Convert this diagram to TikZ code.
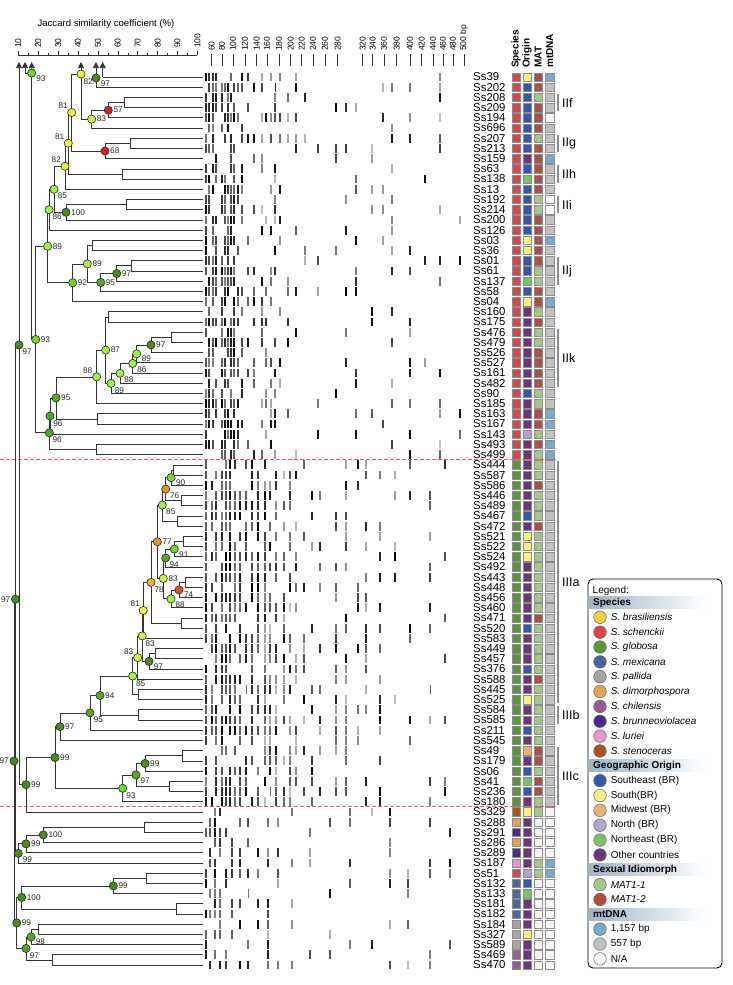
\documentclass[tikz,border=0pt]{standalone}
\usepackage{fontspec}
\setmainfont{Liberation Sans}
\usetikzlibrary{arrows.meta,positioning}
% species
\definecolor{sY}{HTML}{F0D23A}
\definecolor{sR}{HTML}{D9464C}
\definecolor{sG}{HTML}{5A963A}
\definecolor{sB}{HTML}{4A64A4}
\definecolor{sP}{HTML}{A8A39C}
\definecolor{sO}{HTML}{E2A454}
\definecolor{sC}{HTML}{9A5A96}
\definecolor{sV}{HTML}{4A2A8C}
\definecolor{sL}{HTML}{E898CC}
\definecolor{sS}{HTML}{A8541A}
% origin
\definecolor{oSE}{HTML}{3A56A6}
\definecolor{oS}{HTML}{F5EF88}
\definecolor{oMW}{HTML}{E8B272}
\definecolor{oN}{HTML}{B4A4D4}
\definecolor{oNE}{HTML}{7CC06C}
\definecolor{oOC}{HTML}{6A3878}
% mating type and mtDNA
\definecolor{m1}{HTML}{A6C688}
\definecolor{m2}{HTML}{B04E46}
\definecolor{mW}{HTML}{F4F4F4}
\definecolor{tB}{HTML}{78AACC}
\definecolor{tG}{HTML}{C2C2C2}
\definecolor{tW}{HTML}{F6F6F6}
% bootstrap scale
\definecolor{cDk}{HTML}{4A8A1E}
\definecolor{cMd}{HTML}{5AA526}
\definecolor{cBr}{HTML}{6ED82C}
\definecolor{cLt}{HTML}{9FF04C}
\definecolor{cYg}{HTML}{CDF24A}
\definecolor{cYe}{HTML}{E8F040}
\definecolor{cGo}{HTML}{E6B82E}
\definecolor{cOr}{HTML}{E3952A}
\definecolor{cRo}{HTML}{E0561A}
\definecolor{cRd}{HTML}{D42222}
\definecolor{hdbar}{HTML}{9FB4C6}
\definecolor{sepred}{HTML}{E06464}
\tikzset{
  tree/.style={draw=black!80, line width=0.7pt},
  cutln/.style={tree, -{Triangle[length=6pt,width=6pt]}},
  bs/.style={circle, draw=black!85, line width=0.6pt, fill=#1, minimum size=8.2pt, inner sep=0pt},
  blab/.style={font=\fontsize{8.2}{8.2}\selectfont, inner sep=0.6pt, text=black!85},
  strain/.style={anchor=west, inner sep=0pt, font=\fontsize{11.4}{11.4}\selectfont},
  cbox/.style={rectangle, draw=black!45, line width=0.5pt, fill=#1, minimum width=8.2pt, minimum height=8.4pt, inner sep=0pt},
  colhd/.style={rotate=90, anchor=west, inner sep=0pt, font=\bfseries\fontsize{10}{10}\selectfont},
  axlab/.style={rotate=90, anchor=west, inner sep=0pt, font=\fontsize{8.5}{8.5}\selectfont},
  axln/.style={draw=black!80, line width=0.5pt},
  clade/.style={draw=black!45, line width=1.2pt},
  cladelab/.style={anchor=west, inner sep=0pt, font=\fontsize{12.5}{12.5}\selectfont},
  sepln/.style={draw=sepred, dash pattern=on 4pt off 2pt, line width=0.9pt},
  lgdot/.style={circle, draw=black!60, line width=0.5pt, fill=#1, minimum size=12.6pt, inner sep=0pt},
  lgtxt/.style={anchor=west, inner sep=0pt, font=\fontsize{10}{10}\selectfont},
  lghd/.style={anchor=west, inner sep=0pt, font=\bfseries\fontsize{10}{10}\selectfont},
}
% gel lanes: rows #1..#2, band positions/probabilities #3
\newcommand{\gelrows}[3]{%
  \foreach \i in {#1,...,#2}{%
    \pgfmathsetmacro{\yy}{77+(\i-1)*10.207}%
    \foreach \bx/\pb in {#3}{%
      \pgfmathtruncatemacro{\hit}{rnd<\pb}%
      \ifnum\hit=1
        \pgfmathtruncatemacro{\gv}{\bx<262 ? 50+50*rnd : 25+75*rnd}%
        \pgfmathsetmacro{\bw}{0.5+0.7*rnd}%
        \fill[black!\gv] (\bx-\bw,\yy-4.4) rectangle (\bx+\bw,\yy+4.4);
      \fi
    }%
  }%
}

\begin{document}
\begin{tikzpicture}[x=1pt, y=-1pt]
  \useasboundingbox (0,0) rectangle (732,985);
  \fill[white] (0,0) rectangle (732,985);

  % axes
  \node[font=\fontsize{9.6}{9.6}\selectfont] (ttl) at (106,24) {Jaccard similarity coefficient (\%)};
  \draw[axln] (18.3,55) -- (197.4,55);
  \foreach \v in {10,20,...,100}{
    \pgfmathsetmacro{\ax}{18.3+(\v-10)*1.99}
    \draw[axln] (\ax,50.5) -- (\ax,55);
    \node[axlab] at (\ax,48) {\v};
  }
  \foreach \v in {15,25,...,95}{
    \pgfmathsetmacro{\ax}{18.3+(\v-10)*1.99}
    \draw[axln] (\ax,52.5) -- (\ax,55);
  }
  \foreach \bp/\bx in {60/211.7,80/222,100/233,120/245,140/256.7,160/267,180/279,200/290.7,220/301.7,240/313,260/325,280/337.7,320/362.7,340/372.7,360/384,380/396.7,400/410,420/421.7,440/433,460/443,480/453}{
    \draw[axln] (\bx,54) -- (\bx,66);
    \node[axlab] at (\bx,51) {\bp};
  }
  \draw[axln] (464,54) -- (464,66);
  \node[axlab] at (464,51) {500 bp};

  % column heads
  \node[colhd] at (516,68) {Species};
  \node[colhd] at (527,68) {Origin};
  \node[colhd] at (538.3,68) {MAT};
  \node[colhd] at (549.8,68) {mtDNA};

  % gel bands
  \pgfmathsetseed{11}
  \gelrows{1}{38}{206/0.75,209/0.65,213/0.55,216/0.5,222/0.65,225/0.55,228/0.65,231/0.55,234/0.5,238/0.45,242/0.35,248/0.25,254/0.3,262/0.45,266/0.3,271/0.4,275/0.45,280/0.3,288/0.3,296/0.2,305/0.12,318/0.12,336/0.3,346/0.2,356/0.3,372/0.3,383/0.15,392/0.3,410/0.2,425/0.12,440/0.3,460/0.08}
  \gelrows{39}{72}{206/0.9,212/0.5,216/0.7,222/0.8,226/0.6,230/0.8,235/0.7,240/0.6,246/0.5,252/0.6,258/0.7,265/0.8,270/0.6,276/0.7,284/0.6,290/0.5,296/0.6,304/0.3,312/0.4,320/0.3,336/0.5,346/0.6,358/0.3,366/0.4,380/0.4,395/0.3,410/0.2,430/0.2,445/0.15}
  \gelrows{73}{88}{206/0.6,210/0.5,215/0.5,220/0.5,226/0.4,232/0.4,240/0.3,248/0.4,258/0.3,268/0.4,278/0.3,292/0.3,310/0.3,330/0.2,350/0.3,372/0.3,390/0.4,408/0.2,430/0.2,450/0.2}

  % strains, leaf ends and trait boxes
  \foreach \i/\nm/\spc/\ogn/\mt/\md in {
    1/Ss39/sR/oS/m2/tB, 2/Ss202/sR/oSE/m2/tG, 3/Ss208/sR/oSE/m1/tG, 4/Ss209/sR/oSE/m2/tG,
    5/Ss194/sR/oSE/m2/tW, 6/Ss696/sR/oSE/m2/tG, 7/Ss207/sR/oSE/m1/tG, 8/Ss213/sR/oSE/m2/tG,
    9/Ss159/sR/oOC/m2/tB, 10/Ss63/sR/oSE/m2/tG, 11/Ss138/sR/oNE/m2/tG, 12/Ss13/sR/oSE/m2/tG,
    13/Ss192/sR/oSE/m1/tW, 14/Ss214/sR/oSE/m1/tW, 15/Ss200/sR/oSE/m2/tG, 16/Ss126/sR/oSE/m2/tG,
    17/Ss03/sR/oS/m2/tB, 18/Ss36/sR/oS/m2/tG, 19/Ss01/sR/oSE/m2/tG, 20/Ss61/sR/oSE/m1/tG,
    21/Ss137/sR/oNE/m1/tG, 22/Ss58/sR/oSE/m2/tG, 23/Ss04/sR/oS/m2/tB, 24/Ss160/sR/oOC/m1/tG,
    25/Ss175/sR/oOC/m2/tG, 26/Ss476/sR/oOC/m1/tG, 27/Ss479/sR/oOC/m1/tG, 28/Ss526/sR/oOC/m2/tG,
    29/Ss527/sR/oOC/m2/tG, 30/Ss161/sR/oOC/m2/tG, 31/Ss482/sR/oOC/m2/tG, 32/Ss90/sR/oSE/m1/tG,
    33/Ss185/sR/oOC/m1/tG, 34/Ss163/sR/oOC/m2/tB, 35/Ss167/sR/oOC/m2/tB, 36/Ss143/sR/oN/m1/tG,
    37/Ss493/sR/oOC/m2/tB, 38/Ss499/sR/oOC/m1/tB, 39/Ss444/sG/oOC/m1/tG, 40/Ss587/sG/oOC/m1/tG,
    41/Ss586/sG/oOC/m2/tG, 42/Ss446/sG/oOC/m1/tG, 43/Ss489/sG/oOC/m1/tG, 44/Ss467/sG/oSE/m1/tG,
    45/Ss472/sG/oOC/m2/tG, 46/Ss521/sG/oS/m1/tG, 47/Ss522/sG/oS/m1/tG, 48/Ss524/sG/oS/m1/tG,
    49/Ss492/sG/oOC/m1/tG, 50/Ss443/sG/oOC/m1/tG, 51/Ss448/sG/oOC/m1/tG, 52/Ss456/sG/oOC/m1/tG,
    53/Ss460/sG/oOC/m1/tG, 54/Ss471/sG/oOC/m2/tG, 55/Ss520/sG/oSE/m1/tG, 56/Ss583/sG/oOC/m1/tG,
    57/Ss449/sG/oOC/m1/tG, 58/Ss457/sG/oOC/m1/tG, 59/Ss376/sG/oSE/m1/tG, 60/Ss588/sG/oOC/m2/tG,
    61/Ss445/sG/oOC/m1/tG, 62/Ss525/sG/oS/m1/tG, 63/Ss584/sG/oOC/m1/tG, 64/Ss585/sG/oOC/m1/tG,
    65/Ss211/sG/oSE/m1/tG, 66/Ss545/sG/oOC/m1/tG, 67/Ss49/sG/oMW/m2/tG, 68/Ss179/sG/oOC/m2/tG,
    69/Ss06/sG/oSE/m1/tG, 70/Ss41/sG/oNE/m2/tG, 71/Ss236/sG/oSE/m2/tG, 72/Ss180/sG/oOC/m1/tG,
    73/Ss329/sS/oS/m1/tW, 74/Ss288/sO/oOC/mW/tW, 75/Ss291/sV/oOC/mW/tW, 76/Ss286/sO/oOC/mW/tW,
    77/Ss289/sV/oOC/mW/tW, 78/Ss187/sL/oOC/m1/tB, 79/Ss51/sR/oN/m1/tB, 80/Ss132/sB/oSE/mW/tW,
    81/Ss133/sB/oNE/mW/tW, 82/Ss181/sB/oOC/mW/tW, 83/Ss182/sB/oOC/mW/tW, 84/Ss184/sP/oOC/mW/tW,
    85/Ss327/sP/oS/mW/tW, 86/Ss589/sP/oOC/mW/tW, 87/Ss469/sC/oOC/mW/tW, 88/Ss470/sC/oOC/mW/tW}{
    \pgfmathsetmacro{\yy}{77+(\i-1)*10.207}
    \coordinate (L\i) at (203,\yy);
    \node[strain] (s\i) at (473,\yy) {\nm};
    \node[cbox=\spc] (sp\i) at (516,\yy) {};
    \node[cbox=\ogn] (or\i) at (527,\yy) {};
    \node[cbox=\mt] (ma\i) at (538.3,\yy) {};
    \node[cbox=\md] (mt\i) at (549.8,\yy) {};
  }

  % group separators
  \draw[sepln] (0,459.8) -- (556,459.8);
  \draw[sepln] (0,806.8) -- (556,806.8);

  % clades
  \foreach \ca/\cb/\cl in {3/4/IIf, 7/8/IIg, 10/11/IIh, 13/14/IIi, 19/21/IIj, 26/31/IIk, 39/62/IIIa, 63/64/IIIb, 67/72/IIIc}{
    \pgfmathsetmacro{\ya}{77+(\ca-1)*10.207-3.5}
    \pgfmathsetmacro{\yb}{77+(\cb-1)*10.207+3.5}
    \draw[clade] (558,\ya) -- (558,\yb);
    \node[cladelab] at (562,{(\ya+\yb)/2}) {\cl};
  }

  % dendrogram: branch points
  \coordinate (tp1) at (19,62);   \coordinate (tp2) at (25,62);
  \coordinate (tp3) at (31.7,62); \coordinate (tp4) at (81,62);
  \coordinate (tp5) at (96,62);   \coordinate (tp6) at (102.7,62);
  \coordinate (c25) at (25,73);
  \coordinate (u0) at (102.7,77);    \coordinate (u4b) at (96,78);
  \coordinate (u1) at (124,102.52);  \coordinate (u2) at (108.3,110.17);
  \coordinate (u3) at (91.7,119.10); \coordinate (u4) at (81,74);
  \coordinate (u5) at (130,143.35);  \coordinate (u6) at (105,151.00);
  \coordinate (u7) at (71.7,112.50); \coordinate (u8) at (122.7,173.97);
  \coordinate (u9) at (68.3,143.23); \coordinate (u10) at (65,166.26);
  \coordinate (u11) at (126.7,204.59); \coordinate (u12) at (66,212.24);
  \coordinate (u13) at (54,189.25);  \coordinate (u14) at (49,209.68);
  \coordinate (u15) at (92.7,245.42); \coordinate (u16) at (131.7,265.83);
  \coordinate (u17) at (116.7,273.49); \coordinate (u18) at (100.7,282.42);
  \coordinate (u19) at (87.3,263.92); \coordinate (u20) at (72.7,282.74);
  \coordinate (u21) at (47.7,246.21); \coordinate (u22) at (108.3,316.86);
  \coordinate (u23) at (171.7,337.28); \coordinate (u24) at (151,344.93);
  \coordinate (u25) at (136.7,353.87); \coordinate (u26) at (132.7,363.44);
  \coordinate (u27) at (120,373.32); \coordinate (u28) at (111,383.37);
  \coordinate (u29) at (105.7,350.11); \coordinate (u30) at (96.7,376.87);
  \coordinate (u31) at (97.7,418.93); \coordinate (u32) at (56,397.90);
  \coordinate (u33) at (50,416.07);  \coordinate (u34) at (96.7,449.56);
  \coordinate (u35) at (49.3,432.81); \coordinate (u36) at (35.7,339.51);
  \coordinate (u37) at (31.7,73);
  \coordinate (w1) at (173.3,469.97); \coordinate (w2) at (171,477.62);
  \coordinate (w3) at (181.7,500.59); \coordinate (w4) at (165.7,489.11);
  \coordinate (w5) at (177.3,521.00); \coordinate (w6) at (162.3,505.06);
  \coordinate (w7) at (183.3,541.42); \coordinate (w8) at (174.3,549.07);
  \coordinate (w9) at (165.7,558.01); \coordinate (w10) at (185,582.25);
  \coordinate (w11) at (179,589.90); \coordinate (w12) at (171,598.83);
  \coordinate (w13) at (163.3,578.42); \coordinate (w14) at (157.3,541.74);
  \coordinate (w15) at (181.7,623.07); \coordinate (w16) at (151,582.41);
  \coordinate (w17) at (143.3,610.40); \coordinate (w18) at (155,653.70);
  \coordinate (w19) at (149,661.35); \coordinate (w20) at (142.3,635.88);
  \coordinate (w21) at (137.7,657.55); \coordinate (w22) at (138.3,694.52);
  \coordinate (w23) at (132.7,676.04); \coordinate (w24) at (138.3,714.94);
  \coordinate (w25) at (100,695.49); \coordinate (w26) at (90,712.87);
  \coordinate (w27) at (60,726.66); \coordinate (w28) at (182.7,755.77);
  \coordinate (w29) at (145,763.42); \coordinate (w30) at (169.3,786.39);
  \coordinate (w31) at (136,774.91); \coordinate (w32) at (122.7,788.30);
  \coordinate (w33) at (55,757.48); \coordinate (w34) at (26,784.69);
  \coordinate (b1) at (144,827.21); \coordinate (b2) at (43.3,834.87);
  \coordinate (b3) at (26,843.80); \coordinate (b4) at (18.3,853.37);
  \coordinate (b5) at (146.7,878.25); \coordinate (b6) at (113.3,885.91);
  \coordinate (b7) at (176,908.87); \coordinate (b8) at (21.7,897.39);
  \coordinate (b9) at (38.3,929.28); \coordinate (b10) at (31,936.94);
  \coordinate (b11) at (52.7,959.91); \coordinate (b12) at (26,948.43);
  \coordinate (b13) at (16.7,922.91);
  \coordinate (t1) at (19,345); \coordinate (t2) at (15.5,599.19);
  \coordinate (t3) at (14,761.05);

  % dendrogram: branches
  \foreach \p/\q in {u0/L1, u4b/L2, u1/L3, u1/L4, u2/u1, u2/L5, u3/u2, u3/L6, u4/u3,
    u5/L7, u5/L8, u6/u5, u6/L9, u7/u4, u7/u6, u8/L10, u8/L11, u9/u7, u9/u8, u10/u9, u10/L12,
    u11/L13, u11/L14, u12/u11, u12/L15, u13/u10, u13/u12, u14/u13, u14/L16,
    u15/L17, u15/L18, u16/L19, u16/L20, u17/u16, u17/L21, u18/u17, u18/L22, u19/u15, u19/u18,
    u20/u19, u20/L23, u21/u14, u21/u20, u22/L24, u22/L25, u23/L26, u23/L27, u24/u23, u24/L28,
    u25/u24, u25/L29, u26/u25, u26/L30, u27/u26, u27/L31, u28/u27, u28/L32, u29/u22, u29/u28,
    u30/u29, u30/L33, u31/L34, u31/L35, u32/u30, u32/u31, u33/u32, u33/L36, u34/L37, u34/L38,
    u35/u33, u35/u34, u36/u21, u36/u35, u37/u36, c25/u37,
    w1/L39, w1/L40, w2/w1, w2/L41, w3/L42, w3/L43, w4/w2, w4/w3, w5/L44, w5/L45, w6/w4, w6/w5,
    w7/L46, w7/L47, w8/w7, w8/L48, w9/w8, w9/L49, w10/L50, w10/L51, w11/w10, w11/L52,
    w12/w11, w12/L53, w13/w9, w13/w12, w14/w6, w14/w13, w15/L54, w15/L55, w16/w14, w16/w15,
    w17/w16, w17/L56, w18/L57, w18/L58, w19/w18, w19/L59, w20/w17, w20/w19, w21/w20, w21/L60,
    w22/L61, w22/L62, w23/w21, w23/w22, w24/L63, w24/L64, w25/w23, w25/w24, w26/w25, w26/L65,
    w27/w26, w27/L66, w28/L67, w28/L68, w29/w28, w29/L69, w30/L70, w30/L71, w31/w29, w31/w30,
    w32/w31, w32/L72, w33/w27, w33/w32, w34/w33, w34/L73,
    b1/L74, b1/L75, b2/b1, b2/L76, b3/b2, b3/L77, b4/b3, b4/L78, b5/L79, b5/L80, b6/b5, b6/L81,
    b7/L82, b7/L83, b8/b6, b8/b7, b9/L84, b9/L85, b10/b9, b10/L86, b11/L87, b11/L88,
    b12/b10, b12/b11, b13/b8, b13/b12, t1/w34, t2/t1, t2/b4, t3/t2, t3/b13}{
    \draw[tree] (\p) |- (\q);
  }
  % branches running on above the top
  \draw[cutln] (t1) -- (tp1);
  \draw[cutln] (c25) -- (tp2);
  \draw[cutln] (u37) -- (tp3);
  \draw[cutln] (u4) -- (tp4);
  \draw[cutln] (u4b) -- (tp5);
  \draw[cutln] (u0) -- (tp6);

  % bootstrap values
  \foreach \n/\cc/\v/\p in {u2/cRd/57/0, u3/cYg/83/0, u4/cYe/82/-65, u4b/cDk/97/-20, u6/cRd/68/0,
    u7/cYe/81/135, u9/cYe/81/140, u10/cYe/82/140, u12/cDk/100/0, u13/cLt/85/-45, u14/cLt/86/-50,
    u17/cDk/97/0, u18/cMd/95/0, u19/cLt/89/0, u20/cBr/92/0, u21/cLt/89/0, u24/cDk/97/0,
    u25/cLt/89/-15, u26/cLt/86/-30, u27/cLt/88/-35, u28/cLt/89/-45, u29/cLt/87/0, u30/cLt/88/145,
    u32/cMd/95/0, u33/cMd/96/-55, u35/cMd/96/-55, u36/cBr/93/0, u37/cBr/93/-30,
    t1/cDk/97/-50, t2/cDk/97/180, t3/cDk/97/180,
    w2/cBr/90/-15, w4/cOr/76/-35, w6/cLt/85/-45, w8/cBr/91/-20, w9/cMd/94/-45, w11/cRo/74/-15,
    w12/cLt/88/-30, w13/cYg/83/0, w14/cOr/77/0, w16/cGo/78/-50, w17/cYe/81/130, w19/cDk/97/-20,
    w20/cYg/83/-55, w21/cYg/83/145, w23/cLt/85/-55, w25/cMd/94/0, w26/cMd/95/-45, w27/cDk/97/0,
    w29/cDk/99/0, w31/cMd/97/-30, w32/cBr/93/-50, w33/cDk/99/0, w34/cDk/99/0,
    b2/cDk/100/0, b3/cDk/99/0, b4/cDk/99/-30, b6/cDk/99/0, b8/cDk/100/0, b10/cMd/98/-20,
    b12/cMd/97/-45, b13/cDk/99/0}{
    \node[bs=\cc, label={[blab]\p:\v}] (n\n) at (\n) {};
  }

  % legend
  \draw[rounded corners=5pt, line width=0.9pt] (588,579) rectangle (722,968);
  \node[lgtxt] (lgt) at (592.5,590.5) {Legend:};
  \foreach \k/\hd in {-1/Species, 10/Geographic Origin, 17/Sexual Idiomorph, 20/mtDNA}{
    \pgfmathsetmacro{\ly}{617.3+\k*14.85}
    \shade[left color=hdbar, right color=white] (589,\ly-6) rectangle (706,\ly+6);
    \node[lghd] at (593,\ly) {\hd};
  }
  \foreach \k/\cc/\tx in {0/sY/\textit{S. brasiliensis}, 1/sR/\textit{S. schenckii},
    2/sG/\textit{S. globosa}, 3/sB/\textit{S. mexicana}, 4/sP/\textit{S. pallida},
    5/sO/\textit{S. dimorphospora}, 6/sC/\textit{S. chilensis}, 7/sV/\textit{S. brunneoviolacea},
    8/sL/\textit{S. luriei}, 9/sS/\textit{S. stenoceras},
    11/oSE/Southeast (BR), 12/oS/South(BR), 13/oMW/Midwest (BR), 14/oN/North (BR),
    15/oNE/Northeast (BR), 16/oOC/Other countries,
    18/m1/\textit{MAT1-1}, 19/m2/\textit{MAT1-2},
    21/tB/{1,157 bp}, 22/tG/557 bp, 23/tW/N\slash A}{
    \pgfmathsetmacro{\ly}{617.3+\k*14.85}
    \node[lgdot=\cc] (lg\k) at (600,\ly) {};
    \node[lgtxt, right=4pt of lg\k] {\tx};
  }
\end{tikzpicture}
\end{document}
